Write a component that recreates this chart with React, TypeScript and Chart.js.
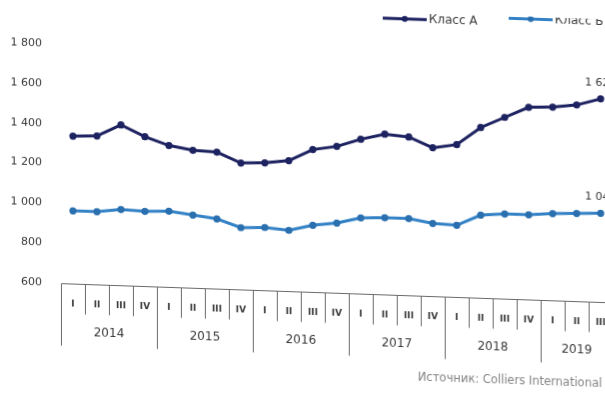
import React, { useEffect, useRef } from "react";
import { Chart, registerables } from "chart.js";

Chart.register(...registerables);

// ---- data ----
const quarterLabels = [
  "I", "II", "III", "IV",
  "I", "II", "III", "IV",
  "I", "II", "III", "IV",
  "I", "II", "III", "IV",
  "I", "II", "III", "IV",
  "I", "II", "III",
];
const yearLabels = ["2014", "2015", "2016", "2017", "2018", "2019"];
const seriesNames = ["Класс А", "Класс Б"];
const classA = [1340, 1345, 1405, 1350, 1310, 1290, 1285, 1235, 1240, 1255, 1315, 1335, 1375, 1405, 1395, 1345, 1365, 1455, 1510, 1565, 1570, 1585, 1620];
const classB = [965, 965, 980, 975, 980, 965, 950, 910, 915, 905, 935, 950, 980, 985, 985, 965, 960, 1015, 1025, 1025, 1035, 1040, 1045];
const yMin = 600;
const yMax = 1800;
const yStep = 200;
const sourceText = "Источник: Colliers International";

// ---- styles ----
const colorA = "#1d2260";
const colorB = "#3382c6";
const textColor = "#3a3a3a";
const FONT = '"DejaVu Sans", Arial, sans-serif';
const SKEW_DEG = 2;
const SKEW = Math.tan((SKEW_DEG * Math.PI) / 180);
const SKEW_X0 = 57;

const fmt = (v: number) => {
  if (v >= 1000) {
    const th = Math.floor(v / 1000);
    const rest = String(Math.round(v % 1000)).padStart(3, "0");
    return th + " " + rest;
  }
  return String(v);
};

// y in canvas so that after skew it lands on page y
const unskewY = (pageY: number, x: number) => pageY - SKEW * (x - SKEW_X0);

const categoryAxisPlugin = {
  id: "categoryAxisBox",
  afterDraw(chart: any) {
    const { ctx, chartArea } = chart;
    const x = chart.scales.x;
    const n = quarterLabels.length;
    const half = (x.getPixelForValue(1) - x.getPixelForValue(0)) / 2;
    const top = Math.round(chartArea.bottom) + 0.5;
    const edge = (i: number) => (i < n ? x.getPixelForValue(i) - half : x.getPixelForValue(n - 1) + half);
    ctx.save();
    ctx.strokeStyle = "#6a6a6a";
    ctx.lineWidth = 1;
    ctx.beginPath();
    ctx.moveTo(Math.round(edge(0)) + 0.5, top);
    ctx.lineTo(edge(n) + 30, top);
    for (let i = 0; i <= n; i++) {
      const ex = Math.round(edge(i)) + 0.5;
      const len = i % 4 === 0 ? 62 : 30;
      ctx.moveTo(ex, top);
      ctx.lineTo(ex, top + len);
    }
    ctx.stroke();

    ctx.fillStyle = textColor;
    ctx.textAlign = "center";
    ctx.textBaseline = "middle";
    ctx.font = "bold 9px " + FONT;
    for (let i = 0; i < n; i++) {
      ctx.fillText(quarterLabels[i], x.getPixelForValue(i), top + 20);
    }
    ctx.font = "12px " + FONT;
    yearLabels.forEach((yl, g) => {
      const a = edge(g * 4);
      const b = edge(Math.min(g * 4 + 4, n));
      ctx.fillText(yl, (a + b) / 2, top + 48);
    });
    ctx.restore();
  },
};

const legendPlugin = {
  id: "customLegend",
  afterDraw(chart: any) {
    const { ctx } = chart;
    const startX = 383;
    const gap = 126;
    const lineLen = 44;
    ctx.save();
    chart.data.datasets.forEach((ds: any, i: number) => {
      const x0 = startX + i * gap;
      const y = unskewY(19, x0 + lineLen / 2);
      ctx.strokeStyle = ds.borderColor;
      ctx.lineWidth = 3;
      ctx.beginPath();
      ctx.moveTo(x0, y);
      ctx.lineTo(x0 + lineLen, y);
      ctx.stroke();
      ctx.fillStyle = ds.pointBackgroundColor;
      ctx.beginPath();
      ctx.arc(x0 + lineLen / 2, y, 3, 0, Math.PI * 2);
      ctx.fill();
      ctx.fillStyle = textColor;
      ctx.font = "12px " + FONT;
      ctx.textAlign = "left";
      ctx.textBaseline = "middle";
      ctx.fillText(ds.label, x0 + lineLen + 2, y);
    });
    ctx.restore();
  },
};

const lastLabelPlugin = {
  id: "lastValueLabels",
  afterDatasetsDraw(chart: any) {
    const { ctx } = chart;
    ctx.save();
    ctx.fillStyle = textColor;
    ctx.font = "11px " + FONT;
    ctx.textAlign = "center";
    ctx.textBaseline = "middle";
    chart.data.datasets.forEach((ds: any, i: number) => {
      const meta = chart.getDatasetMeta(i);
      const last = meta.data[meta.data.length - 1];
      if (!last) return;
      ctx.fillText(fmt(ds.data[ds.data.length - 1]), last.x, last.y - 16);
    });
    ctx.restore();
  },
};

const sourcePlugin = {
  id: "sourceNote",
  afterDraw(chart: any) {
    const { ctx } = chart;
    ctx.save();
    ctx.fillStyle = "#858585";
    ctx.font = "11.5px " + FONT;
    ctx.textAlign = "left";
    ctx.textBaseline = "middle";
    const x0 = 418;
    ctx.fillText(sourceText, x0, unskewY(381, x0 + 90));
    ctx.restore();
  },
};

export default function App() {
  const canvasRef = useRef<HTMLCanvasElement | null>(null);

  useEffect(() => {
    document.body.style.margin = "0";
    const canvas = canvasRef.current;
    if (!canvas) return;
    const chart = new Chart(canvas, {
      type: "line",
      data: {
        labels: quarterLabels,
        datasets: [
          {
            label: seriesNames[0],
            data: classA,
            borderColor: colorA,
            backgroundColor: colorA,
            pointBackgroundColor: colorA,
            pointBorderColor: colorA,
            pointBorderWidth: 0,
            borderWidth: 3,
            pointRadius: 3.6,
            tension: 0,
          },
          {
            label: seriesNames[1],
            data: classB,
            borderColor: colorB,
            backgroundColor: colorB,
            pointBackgroundColor: "#2a6fae",
            pointBorderColor: "#2a6fae",
            pointBorderWidth: 0,
            borderWidth: 3,
            pointRadius: 3.6,
            tension: 0,
          },
        ],
      },
      options: {
        animation: false,
        responsive: false,
        devicePixelRatio: 1,
        layout: { padding: { top: 44, bottom: 113, right: 87, left: 0 } },
        plugins: {
          legend: { display: false },
          tooltip: { enabled: false },
        },
        scales: {
          x: {
            type: "category",
            display: false,
            offset: true,
          },
          y: {
            min: yMin,
            max: yMax,
            grid: { display: false, drawTicks: false },
            border: { display: false },
            ticks: {
              stepSize: yStep,
              padding: 19,
              color: textColor,
              font: { family: FONT, size: 11 },
              callback: (v: any) => fmt(Number(v)),
            },
            afterFit: (scale: any) => {
              scale.width = 61;
            },
          },
        },
      },
      plugins: [categoryAxisPlugin, legendPlugin, lastLabelPlugin, sourcePlugin],
    });
    return () => chart.destroy();
  }, []);

  return (
    <div style={{ width: 605, height: 396, overflow: "hidden", position: "relative", background: "#fff" }}>
      <canvas
        ref={canvasRef}
        width={700}
        height={396}
        style={{
          display: "block",
          width: 700,
          height: 396,
          transform: `skewY(${SKEW_DEG}deg)`,
          transformOrigin: `${SKEW_X0}px 0px`,
        }}
      />
    </div>
  );
}
